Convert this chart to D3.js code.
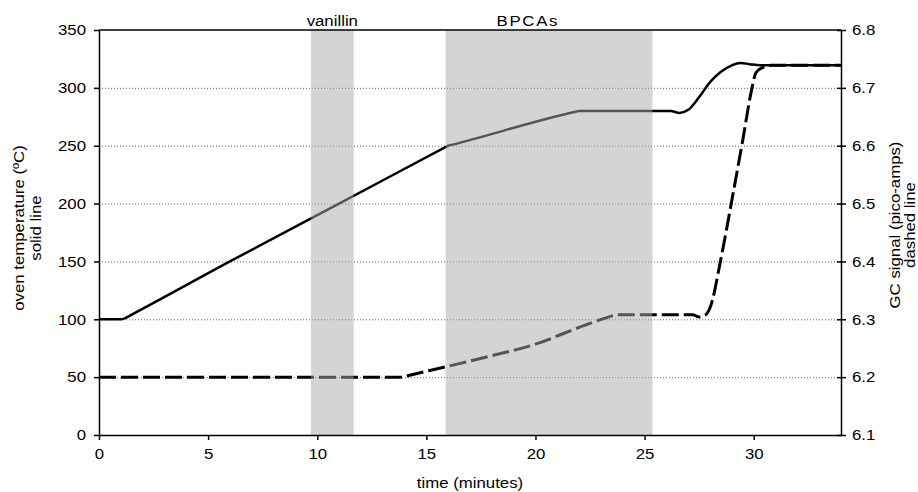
<!DOCTYPE html>
<html>
<head>
<meta charset="utf-8">
<script src="https://cdn.jsdelivr.net/npm/d3@7"></script>
<style>
  body { margin: 0; background: #fff; }
  text { font-family: "Liberation Sans", Arial, sans-serif; font-size: 15px; fill: #000; }
</style>
</head>
<body>
<script>
// oven temperature program (solid line, left axis)
const tempTime = [0, 1.0, 1.2, 1.5, 6, 11, 15.85, 16, 16.15, 21.85, 22, 22.15, 26.2, 26.6, 27.0, 27.5, 28.0, 28.5, 29.0, 29.4, 29.8, 30.3, 34];
const tempVal  = [100, 100, 101, 104, 150, 200, 248.5, 250, 250.7, 279.4, 280, 280, 280, 278.3, 281, 292, 305, 314, 319.5, 321.5, 320.5, 319.5, 319.5];

// GC signal (dashed line, right axis, pA)
const gcTime = [0, 13.9, 14.1, 15.9, 18, 20, 22, 23.2, 23.8, 27.2, 27.5, 27.8, 28.0, 28.5, 29.0, 29.5, 29.9, 30.1, 30.4, 30.8, 34];
const gcVal  = [6.2, 6.2, 6.202, 6.218, 6.237, 6.257, 6.286, 6.302, 6.308, 6.308, 6.304, 6.308, 6.32, 6.405, 6.506, 6.61, 6.696, 6.726, 6.735, 6.739, 6.739];

// elution windows
const bandNames = ["vanillin", "BPCAs"];
const bandStart = [9.71, 15.88];
const bandEnd   = [11.67, 25.36];
const bandLabelAt = [10.69, 19.65];

const xTicks = [0, 5, 10, 15, 20, 25, 30];
const leftTicks = [0, 50, 100, 150, 200, 250, 300, 350];
const rightTicks = [6.1, 6.2, 6.3, 6.4, 6.5, 6.6, 6.7, 6.8];
const gridTicks = [50, 100, 150, 200, 250, 300];

const W = 918, H = 492;
const margin = { top: 30, right: 77, bottom: 57, left: 99 };
const SX = 1.12; // glyphs in the original are wider than Arial

const svg = d3.select("body").append("svg").attr("width", W).attr("height", H);

const x = d3.scaleLinear().domain([0, 34]).range([margin.left, W - margin.right]);
const yL = d3.scaleLinear().domain([0, 350]).range([H - margin.bottom, margin.top]);
const yR = d3.scaleLinear().domain([6.1, 6.8]).range([H - margin.bottom, margin.top]);

// gridlines
svg.append("g").selectAll("line").data(gridTicks).join("line")
  .attr("x1", x(0)).attr("x2", x(34))
  .attr("y1", d => yL(d) + 0.5).attr("y2", d => yL(d) + 0.5)
  .attr("stroke", "#666").attr("stroke-width", 1).attr("stroke-dasharray", "1,2");

// lines
const tempLine = d3.line().x(d => x(d[0])).y(d => yL(d[1])).curve(d3.curveMonotoneX);
const gcLine = d3.line().x(d => x(d[0])).y(d => yR(d[1])).curve(d3.curveMonotoneX);

svg.append("path")
  .datum(gcTime.map((t, i) => [t, gcVal[i]]))
  .attr("d", gcLine)
  .attr("fill", "none").attr("stroke", "#000").attr("stroke-width", 3)
  .attr("stroke-dasharray", "17,5");

svg.append("path")
  .datum(tempTime.map((t, i) => [t, tempVal[i]]))
  .attr("d", tempLine)
  .attr("fill", "none").attr("stroke", "#000").attr("stroke-width", 2.5);

// shaded windows sit over the lines
svg.append("g").selectAll("rect").data(bandNames).join("rect")
  .attr("x", (d, i) => x(bandStart[i]))
  .attr("width", (d, i) => x(bandEnd[i]) - x(bandStart[i]))
  .attr("y", margin.top)
  .attr("height", yL(0) - margin.top)
  .attr("fill", "#aaa").attr("fill-opacity", 0.5);

svg.append("g").selectAll("text").data(bandNames).join("text")
  .attr("transform", (d, i) => `translate(${x(bandLabelAt[i])},26) scale(${SX},1)`)
  .attr("text-anchor", "middle")
  .style("letter-spacing", d => d === "BPCAs" ? "1.5px" : null)
  .text(d => d);

// axes
const gx = svg.append("g")
  .attr("transform", `translate(0,${yL(0)})`)
  .call(d3.axisBottom(x).tickValues(xTicks).tickSize(5).tickSizeOuter(0).tickPadding(8));

const gl = svg.append("g")
  .attr("transform", `translate(${x(0)},0)`)
  .call(d3.axisLeft(yL).tickValues(leftTicks).tickSize(5).tickSizeOuter(0).tickPadding(8));

const gr = svg.append("g")
  .attr("transform", `translate(${x(34)},0)`)
  .call(d3.axisRight(yR).tickValues(rightTicks).tickFormat(d3.format(".1f")).tickSize(5).tickSizeOuter(0).tickPadding(6));
gr.selectAll(".tick").append("line").attr("x2", -4).attr("stroke", "#000").attr("stroke-width", 1.5);

[gx, gl, gr].forEach(g => {
  g.select(".domain").attr("stroke-width", 1.5);
  g.selectAll(".tick line").attr("stroke-width", 1.5);
  g.selectAll(".tick text")
    .style("font-size", "15px")
    .style("font-family", "'Liberation Sans', Arial, sans-serif")
    .each(function () {
      const t = d3.select(this);
      const tx = +t.attr("x") || 0;
      t.attr("x", tx / SX).attr("transform", `scale(${SX},1)`);
    });
});

// top frame
svg.append("line")
  .attr("x1", x(0)).attr("x2", x(34))
  .attr("y1", margin.top).attr("y2", margin.top)
  .attr("stroke", "#000").attr("stroke-width", 1.5);

// axis titles
svg.append("text")
  .attr("transform", `translate(${x(17)},488) scale(${SX},1)`)
  .attr("text-anchor", "middle")
  .text("time (minutes)");

const lt = svg.append("g").attr("transform", "translate(0,228) rotate(-90)");
lt.append("text").attr("transform", `translate(0,24) scale(${SX},1)`)
  .attr("text-anchor", "middle").text("oven temperature (ºC)");
lt.append("text").attr("transform", `translate(0,41) scale(${SX},1)`)
  .attr("text-anchor", "middle").text("solid line");

const rt = svg.append("g").attr("transform", "translate(0,225) rotate(-90)");
rt.append("text").attr("transform", `translate(0,900) scale(${SX},1)`)
  .attr("text-anchor", "middle").text("GC signal (pico-amps)");
rt.append("text").attr("transform", `translate(0,915) scale(${SX},1)`)
  .attr("text-anchor", "middle").text("dashed line");
</script>
</body>
</html>
